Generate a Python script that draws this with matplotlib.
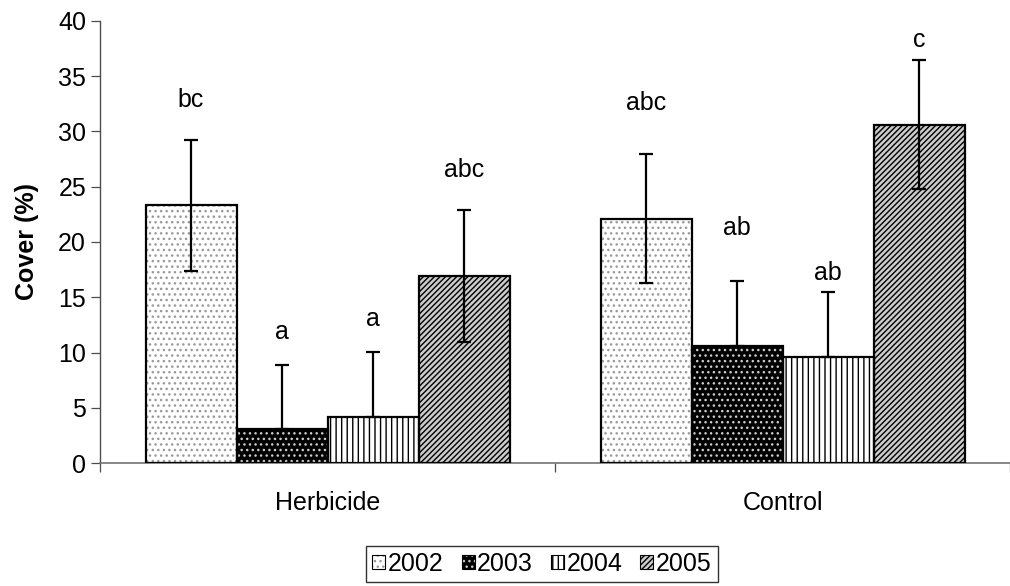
import matplotlib.pyplot as plt
import numpy as np
from matplotlib.patches import Patch

plt.rcParams['font.family'] = ['Liberation Sans', 'DejaVu Sans']
plt.rcParams['hatch.linewidth'] = 1.0

groups = ['Herbicide', 'Control']
years = ['2002', '2003', '2004', '2005']

herbicide_cover = [23.3, 3.1, 4.2, 16.9]
control_cover = [22.1, 10.6, 9.6, 30.6]
# upper / lower error; 2003 and 2004 only show the upper half
herbicide_err_up = [5.9, 5.8, 5.85, 5.95]
control_err_up = [5.85, 5.85, 5.9, 5.85]
herbicide_err_low = [5.9, 0, 0, 5.95]
control_err_low = [5.85, 0, 0, 5.85]

herbicide_letters = ['bc', 'a', 'a', 'abc']
control_letters = ['abc', 'ab', 'ab', 'c']
herbicide_letter_y = [32.2, 11.2, 12.4, 25.9]
control_letter_y = [31.9, 20.6, 16.6, 37.6]

# look of each year: face colour, hatch, hatch colour
styles = {
    '2002': ('white', '...', '0.6'),
    '2003': ('black', '...', '0.8'),
    '2004': ('white', '|||', 'black'),
    '2005': ('0.8', '//////', 'black'),
}

FS = 18

cover = np.array([herbicide_cover, control_cover])
err_up = np.array([herbicide_err_up, control_err_up])
err_low = np.array([herbicide_err_low, control_err_low])
letters = [herbicide_letters, control_letters]
letter_y = [herbicide_letter_y, control_letter_y]

fig = plt.figure(figsize=(10.1, 5.86), dpi=100)
ax = fig.add_axes([100 / 1010, 122.7 / 586, 910 / 1010, 442.6 / 586])

x = np.arange(len(groups))
width = 0.2
offsets = [-0.3, -0.1, 0.1, 0.3]

handles = []
for i, year in enumerate(years):
    face, hatch, hcol = styles[year]
    pos = x + offsets[i]
    ax.bar(pos, cover[:, i], width, color=face, linewidth=0, zorder=2)
    ax.bar(pos, cover[:, i], width, fill=False, hatch=hatch, edgecolor=hcol, linewidth=0, zorder=3)
    ax.bar(pos, cover[:, i], width, fill=False, edgecolor='black', linewidth=1.6, zorder=4)
    yerr = np.vstack([err_low[:, i], err_up[:, i]])
    ax.errorbar(pos, cover[:, i], yerr=yerr, fmt='none', ecolor='black',
                elinewidth=1.6, capsize=4.8, capthick=1.6, zorder=5)
    for g in range(len(groups)):
        ax.text(pos[g], letter_y[g][i], letters[g][i], ha='center', va='baseline', fontsize=FS)
    handles.append((Patch(facecolor=face, linewidth=0),
                    Patch(fill=False, hatch=hatch, edgecolor=hcol, linewidth=0),
                    Patch(fill=False, edgecolor='black', linewidth=0.8)))

ax.set_ylim(0, 40)
ax.set_xlim(-0.5, 1.483)
ax.set_yticks(np.arange(0, 45, 5))
ax.set_xticks(x)
ax.set_xticklabels(groups)
ax.set_xticks([-0.5, 0.5, 1.5], minor=True)

ax.spines['top'].set_visible(False)
ax.spines['right'].set_visible(False)
ax.spines['left'].set_color('0.3')
ax.spines['bottom'].set_color('0.45')
ax.spines['left'].set_linewidth(1.0)
ax.spines['bottom'].set_linewidth(1.2)

ax.tick_params(axis='y', direction='out', length=6.5, width=0.9, color='0.3', pad=3.5, labelsize=FS)
ax.tick_params(axis='x', which='major', length=0, pad=20, labelsize=FS)
ax.tick_params(axis='x', which='minor', direction='out', length=6.5, width=0.9, color='0.3')

ax.set_ylabel('Cover (%)', fontsize=FS, fontweight='bold', labelpad=14)

leg = fig.legend(handles, years, loc='center', bbox_to_anchor=(542 / 1010, 1 - 564 / 586),
                 ncol=4, fontsize=FS, frameon=True, fancybox=False,
                 handlelength=0.52, handleheight=0.52, handletextpad=0.1,
                 columnspacing=0.72, borderpad=0.25)
leg.get_frame().set_edgecolor('black')
leg.get_frame().set_linewidth(1.0)

fig.savefig('out.png', dpi=100)
